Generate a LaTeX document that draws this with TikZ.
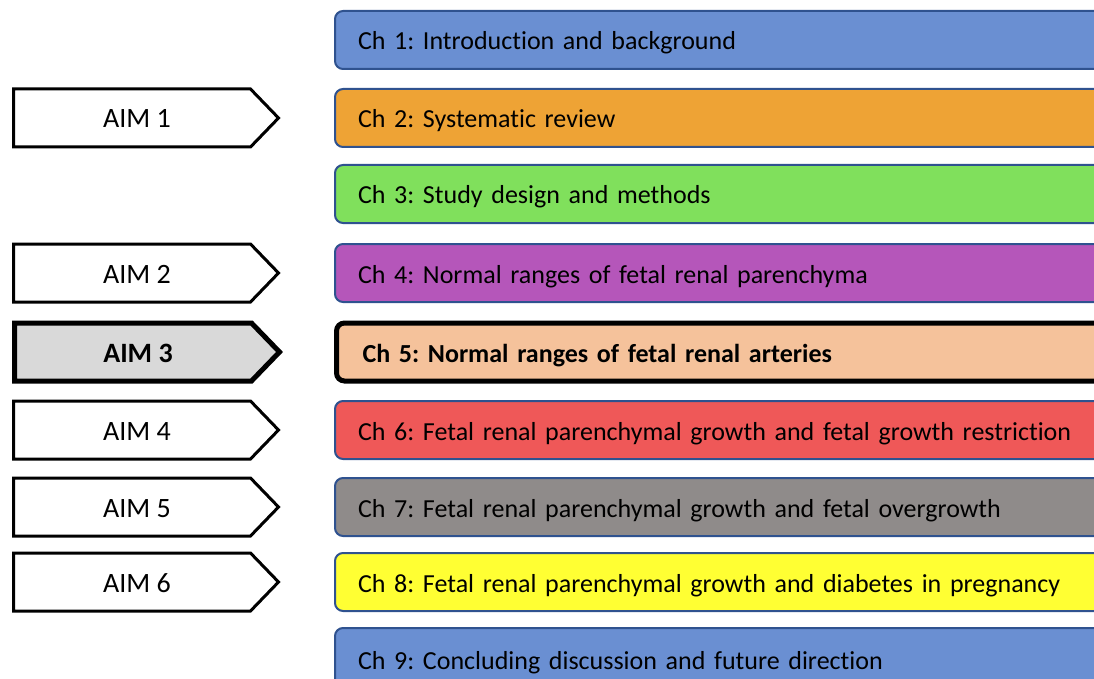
\documentclass[tikz,border=0pt]{standalone}
\usepackage{fontspec}
\setmainfont{Carlito}[Ligatures=NoCommon]
\frenchspacing
\usetikzlibrary{shapes.symbols}
\definecolor{cblue}{HTML}{6A8FD2}
\definecolor{corange}{HTML}{EEA335}
\definecolor{cgreen}{HTML}{80E05C}
\definecolor{cpurple}{HTML}{B556BA}
\definecolor{cpeach}{HTML}{F5C29B}
\definecolor{cred}{HTML}{EF5858}
\definecolor{cgray}{HTML}{8F8B8A}
\definecolor{cyellow}{HTML}{FFFF33}
\definecolor{cline}{HTML}{2F528F}
\definecolor{cgrey}{HTML}{D9D9D9}
\tikzset{
  chap/.style={draw=cline, line width=2pt, rounded corners=8pt, anchor=west,
    minimum height=58pt, text width=740pt, inner xsep=23pt, align=left,
    text height=24pt, text depth=4pt, inner ysep=0pt,
    font=\fontsize{26}{30}\selectfont},
  chapbold/.style={chap, draw=black, line width=5pt, inner xsep=26pt,
    font=\fontsize{26}{30}\selectfont\bfseries},
  aim/.style={draw=black, line width=3pt, fill=white, signal, signal to=east,
    signal pointer angle=92, minimum width=265pt, minimum height=58pt, anchor=west,
    text height=25pt, text depth=5pt, inner ysep=0pt,
    font=\fontsize{28}{32}\selectfont},
  aimbold/.style={aim, line width=5pt, fill=cgrey, font=\fontsize{28}{32}\selectfont\bfseries}
}
\newcommand{\aimtext}[1]{\hspace*{10pt}#1}
\begin{document}
\begin{tikzpicture}[x=1pt,y=-1pt]
\useasboundingbox (0,0) rectangle (1094,679);
\clip (0,0) rectangle (1094,679);
\node[chap, fill=cblue] (c1) at (334,40) {Ch 1: Introduction and background};
\node[chap, fill=corange] (c2) at (334,118) {Ch 2: Systematic review};
\node[chap, fill=cgreen] (c3) at (334,194) {Ch 3: Study design and methods};
\node[chap, fill=cpurple] (c4) at (334,273) {Ch 4: Normal ranges of fetal renal parenchyma};
\node[chapbold, fill=cpeach] (c5) at (334,352) {Ch 5: Normal ranges of fetal renal arteries};
\node[chap, fill=cred] (c6) at (334,430) {Ch 6: Fetal renal parenchymal growth and fetal growth restriction};
\node[chap, fill=cgray] (c7) at (334,507) {Ch 7: Fetal renal parenchymal growth and fetal overgrowth};
\node[chap, fill=cyellow] (c8) at (334,582) {Ch 8: Fetal renal parenchymal growth and diabetes in pregnancy};
\node[chap, fill=cblue, minimum height=62pt] (c9) at (334,659) {Ch 9: Concluding discussion and future direction};
\node[aim] (a1) at (12,118) {\aimtext{AIM 1}};
\node[aim] (a2) at (12,273) {\aimtext{AIM 2}};
\node[aimbold] (a3) at (12,352) {\aimtext{AIM 3}};
\node[aim] (a4) at (12,430) {\aimtext{AIM 4}};
\node[aim] (a5) at (12,507) {\aimtext{AIM 5}};
\node[aim] (a6) at (12,582) {\aimtext{AIM 6}};
\end{tikzpicture}
\end{document}
